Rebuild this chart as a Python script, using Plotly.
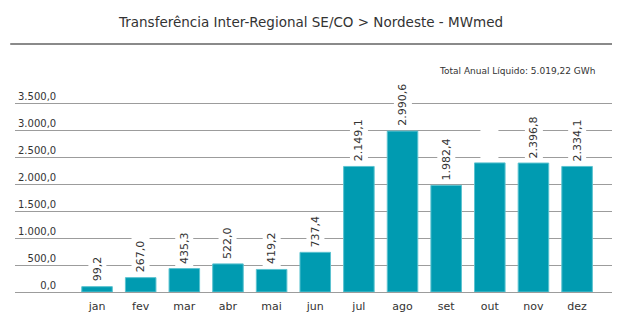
import plotly.graph_objects as go

months = ["jan", "fev", "mar", "abr", "mai", "jun", "jul", "ago", "set", "out", "nov", "dez"]
# bar heights as drawn in the picture (MWmed)
values = [99.2, 267.0, 435.3, 522.0, 419.2, 737.4, 2334.0, 2990.6, 1982.4, 2400.0, 2396.8, 2334.1]
# data labels as printed in the picture ("out" has an empty label box)
labels = ["99,2", "267,0", "435,3", "522,0", "419,2", "737,4", "2.149,1", "2.990,6", "1.982,4", "", "2.396,8", "2.334,1"]
y_ticks = [0, 500, 1000, 1500, 2000, 2500, 3000, 3500]
title_text = "Transferência Inter-Regional SE/CO > Nordeste - MWmed"
total_text = "Total Anual Líquido: 5.019,22 GWh"

FONT = "DejaVu Sans"
BAR = "#009bb1"
GRID = "#9c9c9c"
TXT = "#333333"


def br(v):
    s = f"{v:,.1f}"
    return s.replace(",", "X").replace(".", ",").replace("X", ".")


raw = [br(v) for v in y_ticks]
longest = max(raw, key=len)


def pad(s):
    missing = longest[: len(longest) - len(s)]
    pre = "".join("\u2008" if c in ".," else "\u2007" for c in missing)
    return pre + s


tick_text = [pad(s) for s in raw]

fig = go.Figure()
fig.add_trace(go.Bar(
    x=months, y=values,
    marker=dict(color=BAR, line=dict(color="#5cc3d0", width=1)),
    hoverinfo="skip",
))

for m, v, lab in zip(months, values, labels):
    fig.add_annotation(
        x=m, y=v, xref="x", yref="y",
        text=lab if lab else "\u2007" * 6,
        textangle=-90, showarrow=False,
        xanchor="center", yanchor="bottom", yshift=2,
        bgcolor="white", borderpad=2,
        font=dict(family=FONT, size=11, color=TXT),
    )

# title rule
fig.add_shape(type="line", xref="paper", yref="paper",
              x0=-0.008, x1=1.0, y0=1.228, y1=1.228,
              line=dict(color="#8a8a8a", width=2))

fig.add_annotation(
    text=total_text, xref="paper", yref="paper",
    x=0.975, y=1.094, xanchor="right", yanchor="middle",
    showarrow=False, font=dict(family=FONT, size=9, color=TXT),
)

fig.update_layout(
    width=622, height=322,
    margin=dict(l=15, r=10, t=90, b=30),
    paper_bgcolor="white", plot_bgcolor="white",
    showlegend=False,
    bargap=0.3,
    title=dict(text=title_text, x=0.5, xanchor="center", y=0.932, yanchor="middle",
               font=dict(family=FONT, size=13.5, color=TXT)),
    font=dict(family=FONT, color=TXT),
    xaxis=dict(
        type="category", range=[-1.88, 11.80],
        showgrid=False, showline=True, linecolor=GRID, linewidth=1,
        ticks="", tickfont=dict(family=FONT, size=11, color=TXT),
        ticklabelstandoff=4,
        fixedrange=True,
    ),
    yaxis=dict(
        range=[0, 3755], tickvals=y_ticks, ticktext=tick_text,
        ticklabelposition="inside top",
        showgrid=True, gridcolor=GRID, gridwidth=1, zeroline=False,
        showline=False, ticks="",
        tickfont=dict(family=FONT, size=10, color=TXT),
        fixedrange=True,
    ),
)

fig.write_html("out.html")
